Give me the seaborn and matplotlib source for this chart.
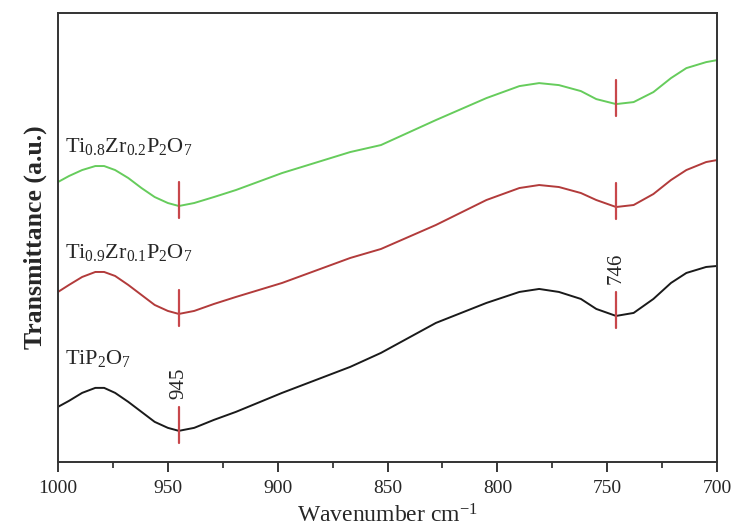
import numpy as np
import pandas as pd
import matplotlib
matplotlib.use('Agg')
import matplotlib.pyplot as plt
import seaborn as sns

# wavenumbers (cm-1) and transmittance (offset, arbitrary units)
wavenumber = [1000, 995, 989, 983, 979, 974, 968, 962, 956, 950, 945, 938, 929, 919,
              898, 867, 853, 828, 805, 790, 781, 772, 762, 755, 746, 738, 729, 721,
              714, 705, 700]
t_tip2o7 = [55, 61, 69, 74, 74, 69, 60, 50, 40, 34, 31, 34, 42, 50,
            69, 95, 109, 139, 159, 170, 173, 170, 163, 153, 146, 149, 163, 179,
            189, 195, 196]
t_zr01 = [170, 177, 185, 190, 190, 186, 177, 167, 157, 151, 148, 151, 158, 165,
          179, 204, 213, 237, 262, 274, 277, 275, 269, 262, 255, 257, 268, 282,
          292, 300, 302]
t_zr02 = [280, 286, 292, 296, 296, 292, 284, 274, 265, 259, 256, 259, 265, 272,
          289, 310, 317, 342, 364, 376, 379, 377, 371, 363, 358, 360, 370, 384,
          394, 400, 402]

samples = ['TiP2O7', 'Ti0.9Zr0.1P2O7', 'Ti0.8Zr0.2P2O7']
labels = [r'TiP$_2$O$_7$', r'Ti$_{0.9}$Zr$_{0.1}$P$_2$O$_7$', r'Ti$_{0.8}$Zr$_{0.2}$P$_2$O$_7$']
label_y = [98, 204, 310]
colors = ['#1a1a1a', '#b23b3b', '#66cc5c']
peaks = [945, 746]
peak_labels = ['945', '746']

df = pd.DataFrame({
    'wavenumber': wavenumber * 3,
    'transmittance': t_tip2o7 + t_zr01 + t_zr02,
    'sample': [s for s in samples for _ in wavenumber],
})

sns.set_style('white')
plt.rcParams['font.family'] = ['Liberation Serif', 'DejaVu Serif']
plt.rcParams['mathtext.fontset'] = 'custom'
plt.rcParams['mathtext.rm'] = 'Liberation Serif'
plt.rcParams['mathtext.it'] = 'Liberation Serif:italic'

fig = plt.figure(figsize=(7.34, 5.26), dpi=100)
ax = fig.add_axes([0.079, 0.122, 0.898, 0.853])

sns.lineplot(data=df, x='wavenumber', y='transmittance', hue='sample',
             palette=dict(zip(samples, colors)), linewidth=1.4, legend=False,
             sort=False, ax=ax)

# peak markers
series = [t_tip2o7, t_zr01, t_zr02]
for vals in series:
    for p in peaks:
        y = vals[wavenumber.index(p)]
        ax.plot([p, p], [y - 12, y + 24], color='#c8474b', linewidth=1.6)

for p, lab in zip(peaks, peak_labels):
    y = t_tip2o7[wavenumber.index(p)]
    ax.text(p, y + 32, lab, rotation=90, ha='center', va='bottom', fontsize=15)

for lab, ly in zip(labels, label_y):
    ax.text(997, ly, lab, ha='left', va='baseline', fontsize=16)

ax.set_xlim(1000, 700)
ax.set_ylim(0, 449)
ax.set_xticks([1000, 950, 900, 850, 800, 750, 700])
ax.set_xticks(np.arange(975, 700, -50), minor=True)
ax.set_yticks([])
ax.tick_params(axis='x', which='major', direction='out', length=7, width=1.3,
               labelsize=14, bottom=True, top=False, pad=6)
ax.tick_params(axis='x', which='minor', direction='out', length=4, width=1.2,
               bottom=True, top=False)
for s in ax.spines.values():
    s.set_color('#333333')
    s.set_linewidth(1.4)

ax.set_xlabel(r'Wavenumber cm$^{-1}$', fontsize=17, labelpad=5)
ax.set_ylabel('Transmittance (a.u.)', fontsize=18.5, fontweight='bold', labelpad=8)

fig.savefig('out.png', dpi=100)
